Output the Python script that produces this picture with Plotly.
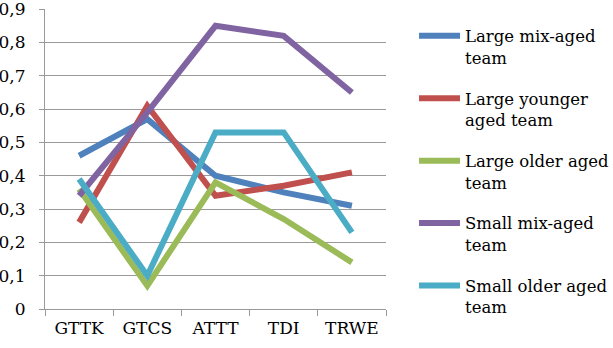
import plotly.graph_objects as go

categories = ["GTTK", "GTCS", "ATTT", "TDI", "TRWE"]
series_names = ["Large mix-aged<br>team", "Large younger<br>aged team", "Large older aged<br>team",
                "Small mix-aged<br>team", "Small older aged<br>team"]
large_mix = [0.46, 0.57, 0.40, 0.35, 0.31]
large_younger = [0.26, 0.61, 0.34, 0.37, 0.41]
large_older = [0.36, 0.07, 0.38, 0.27, 0.14]
small_mix = [0.34, 0.59, 0.85, 0.82, 0.65]
small_older = [0.39, 0.10, 0.53, 0.53, 0.23]
colors = ["#4F81BD", "#C0504D", "#9BBB59", "#8064A2", "#4BACC6"]
ytick_vals = [0, 0.1, 0.2, 0.3, 0.4, 0.5, 0.6, 0.7, 0.8, 0.9]
ytick_text = ["0", "0,1", "0,2", "0,3", "0,4", "0,5", "0,6", "0,7", "0,8", "0,9"]

font_family = "DejaVu Serif"
grid_color = "#999999"
fig = go.Figure()
for i, (name, vals) in enumerate(zip(series_names,
                                     [large_mix, large_younger, large_older, small_mix, small_older])):
    fig.add_trace(go.Scatter(x=categories, y=vals, mode="lines", name=name,
                             legendgroup=str(i),
                             line=dict(color=colors[i], width=6)))

fig.update_layout(
    width=613, height=348,
    margin=dict(l=45, r=227, t=9, b=39, autoexpand=False),
    paper_bgcolor="white", plot_bgcolor="white",
    font=dict(family=font_family, color="black", size=17),
    showlegend=True,
    legend=dict(xref="container", x=0.6754, yref="paper", y=0.968,
                xanchor="left", yanchor="top", valign="top",
                itemwidth=41, tracegroupgap=16.5, font=dict(size=16.5, family=font_family),
                bgcolor="rgba(0,0,0,0)"),
)
fig.update_xaxes(type="category", showgrid=False, showline=True, linecolor=grid_color, linewidth=1,
                 ticks="outside", tickson="boundaries", ticklen=6, tickcolor=grid_color,
                 ticklabelstandoff=4, tickfont=dict(size=17), range=[-0.5, 4.5], automargin=False)
fig.update_yaxes(range=[0, 0.9005], tickvals=ytick_vals, ticktext=ytick_text,
                 showgrid=True, gridcolor=grid_color, gridwidth=1,
                 showline=True, linecolor=grid_color, ticks="outside", ticklen=5, tickcolor=grid_color,
                 ticklabelstandoff=10, ticklabeloverflow="allow", automargin=False,
                 zeroline=False, tickfont=dict(size=17))
fig.write_html("out.html")
